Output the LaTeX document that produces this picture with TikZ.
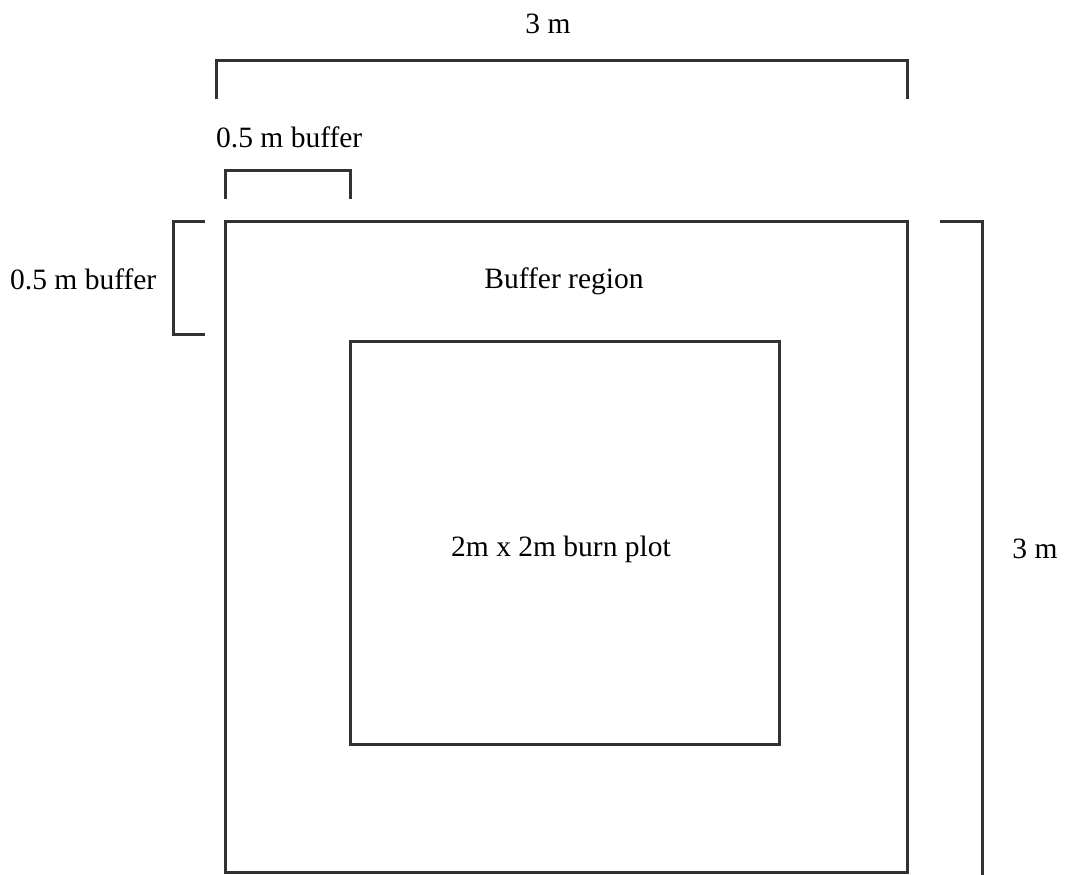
\documentclass[tikz,border=0pt]{standalone}
\usepackage{fontspec}
\setmainfont{Liberation Serif}
\begin{document}
\begin{tikzpicture}[x=1pt,y=-1pt,
  ln/.style={line width=3pt,draw={rgb,255:red,50;green,50;blue,50},line cap=butt,line join=miter},
  lbl/.style={inner sep=0pt,font=\fontsize{29.5}{34}\selectfont}]
\useasboundingbox (0,0) rectangle (1066,875);
% squares
\draw[ln] (225,221) rectangle (907,872);
\draw[ln] (350,341) rectangle (779,744);
% brackets
\draw[ln] (216,99) -- (216,61) -- (907,61) -- (907,99);
\draw[ln] (225,199) -- (225,170) -- (350,170) -- (350,199);
\draw[ln] (205,221) -- (173,221) -- (173,334) -- (205,334);
\draw[ln] (940,221) -- (982,221) -- (982,880);
% labels
\node[lbl] (top) at (548,24) {3 m};
\node[lbl,anchor=west] (buf1) at (216,137) {0.5 m buffer};
\node[lbl,anchor=west] (buf2) at (10,279) {0.5 m buffer};
\node[lbl] (reg) at (564,281) {Buffer region};
\node[lbl] (plot) at (561,549) {2m x 2m burn plot};
\node[lbl] (right) at (1035,549) {3 m};
\end{tikzpicture}
\end{document}
